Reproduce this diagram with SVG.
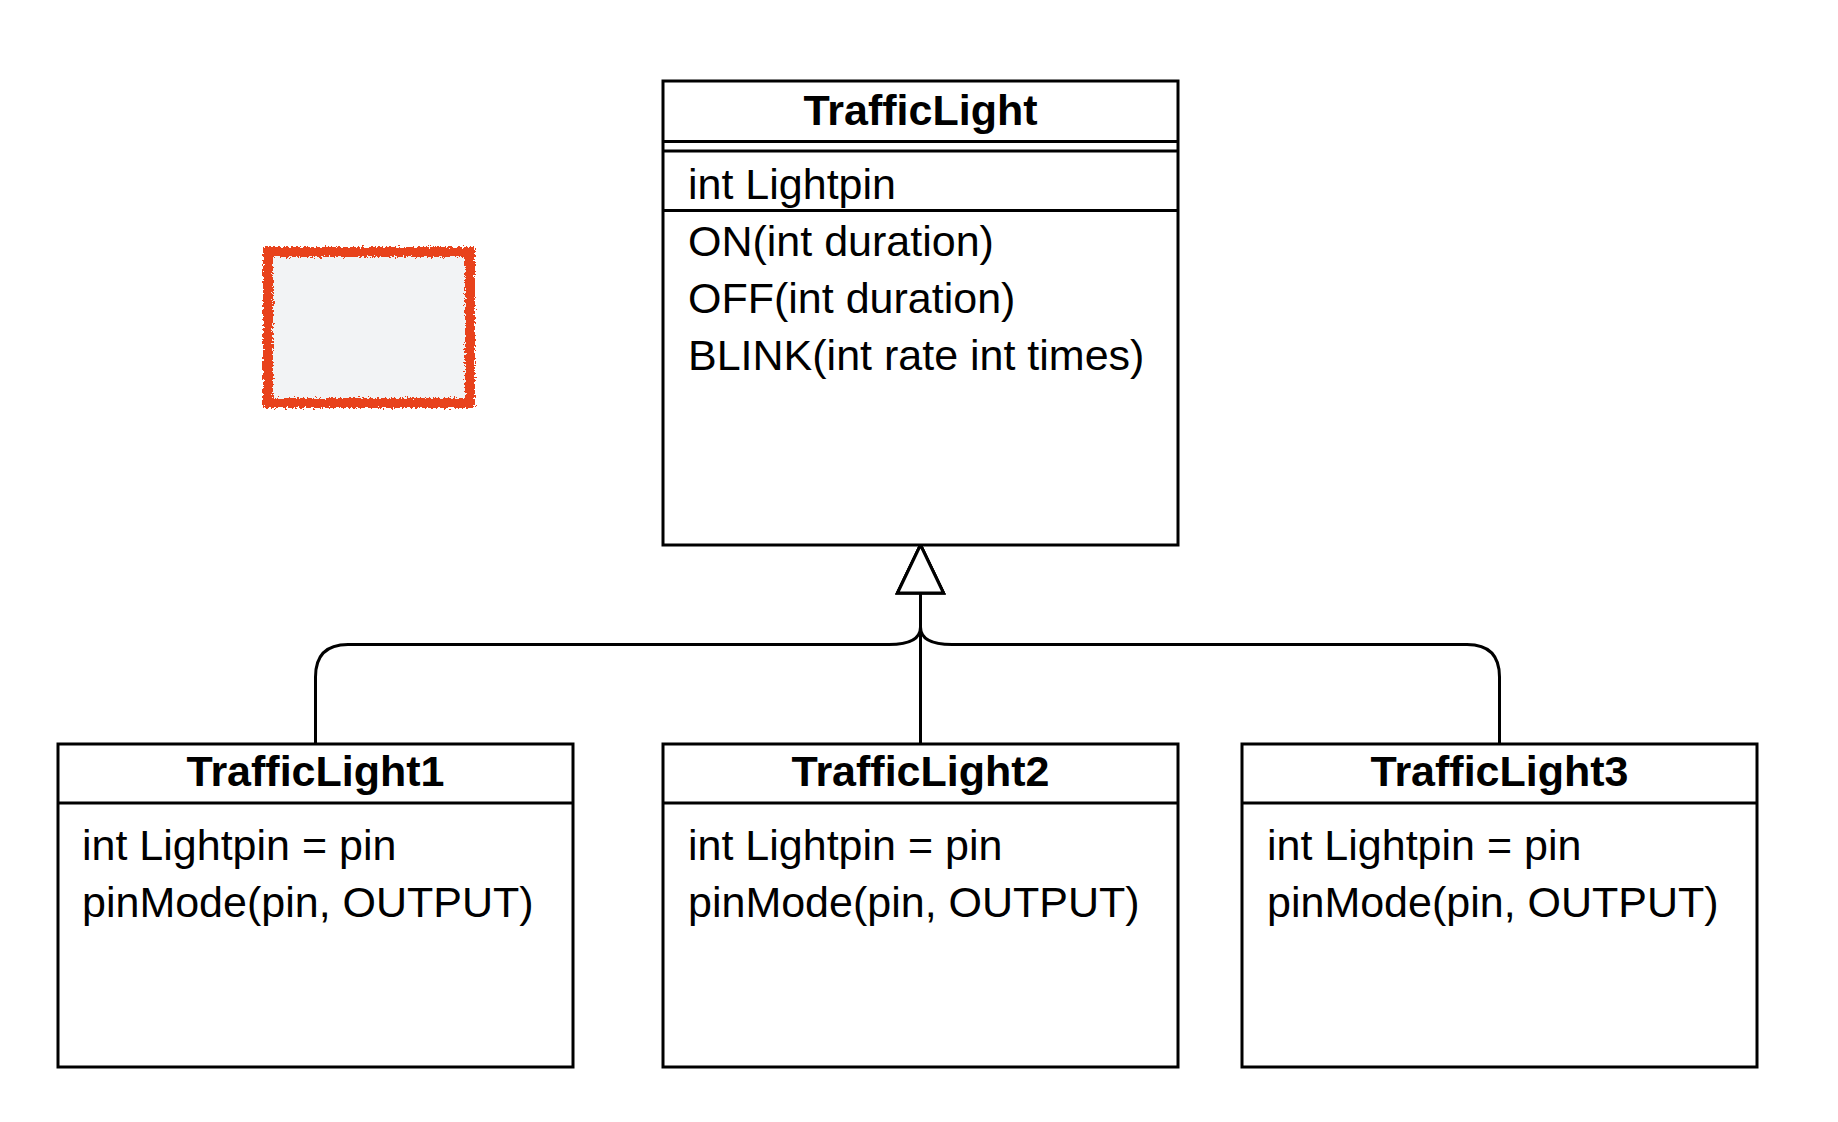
<svg xmlns="http://www.w3.org/2000/svg" width="1838" height="1122" viewBox="0 0 1838 1122">
  <defs>
    <style>
      .box { fill: #ffffff; stroke: #000000; stroke-width: 3; }
      .sep { stroke: #000000; stroke-width: 3; fill: none; }
      .title { font-family: "Liberation Sans", Arial, Helvetica, sans-serif; font-size: 43px; font-weight: bold; fill: #000000; text-anchor: middle; }
      .item { font-family: "Liberation Sans", Arial, Helvetica, sans-serif; font-size: 43px; fill: #000000; }
      .edge { fill: none; stroke: #000000; stroke-width: 3; }
      .sketch { fill: #f2f3f5; stroke: #e8421f; stroke-width: 10; }
    </style>
    <marker id="inherit" markerUnits="userSpaceOnUse" markerWidth="60" markerHeight="60" refX="0" refY="0" orient="auto" overflow="visible">
      <path d="M 0 -23 L 48 0 L 0 23 Z" fill="#ffffff" stroke="#000000" stroke-width="3" stroke-linejoin="miter"/>
    </marker>
    <filter id="rough" x="-10%" y="-10%" width="120%" height="120%">
      <feTurbulence type="fractalNoise" baseFrequency="0.45" numOctaves="2" seed="3" result="noise"/>
      <feDisplacementMap in="SourceGraphic" in2="noise" scale="7" xChannelSelector="R" yChannelSelector="G"/>
    </filter>
  </defs>
  <rect x="0" y="0" width="1838" height="1122" fill="#ffffff"/>

  <g id="sketch-box">
    <rect class="sketch" x="268" y="252" width="202" height="151" filter="url(#rough)"/>
  </g>

  <g id="connectors">
    <path class="edge" d="M 315.5 744 L 315.5 677 Q 315.5 644.5 348 644.5 L 889 644.5 Q 920.5 644.5 920.5 627 L 920.5 593" marker-end="url(#inherit)"/>
    <path class="edge" d="M 920.5 744 L 920.5 593" marker-end="url(#inherit)"/>
    <path class="edge" d="M 1499.5 744 L 1499.5 677 Q 1499.5 644.5 1467 644.5 L 952 644.5 Q 920.5 644.5 920.5 627 L 920.5 593" marker-end="url(#inherit)"/>
  </g>

  <g id="TrafficLight">
    <rect class="box" x="663" y="81" width="515" height="464"/>
    <line class="sep" x1="663" y1="141.5" x2="1178" y2="141.5"/>
    <line class="sep" x1="663" y1="151" x2="1178" y2="151"/>
    <line class="sep" x1="663" y1="210.5" x2="1178" y2="210.5"/>
    <text class="title" x="920.5" y="125">TrafficLight</text>
    <text class="item" x="688" y="199">int Lightpin</text>
    <text class="item" x="688" y="256">ON(int duration)</text>
    <text class="item" x="688" y="313">OFF(int duration)</text>
    <text class="item" x="688" y="370">BLINK(int rate int times)</text>
  </g>

  <g id="TrafficLight1">
    <rect class="box" x="58" y="744" width="515" height="323"/>
    <line class="sep" x1="58" y1="803" x2="573" y2="803"/>
    <text class="title" x="315.5" y="786">TrafficLight1</text>
    <text class="item" x="82" y="860">int Lightpin = pin</text>
    <text class="item" x="82" y="917">pinMode(pin, OUTPUT)</text>
  </g>

  <g id="TrafficLight2">
    <rect class="box" x="663" y="744" width="515" height="323"/>
    <line class="sep" x1="663" y1="803" x2="1178" y2="803"/>
    <text class="title" x="920.5" y="786">TrafficLight2</text>
    <text class="item" x="688" y="860">int Lightpin = pin</text>
    <text class="item" x="688" y="917">pinMode(pin, OUTPUT)</text>
  </g>

  <g id="TrafficLight3">
    <rect class="box" x="1242" y="744" width="515" height="323"/>
    <line class="sep" x1="1242" y1="803" x2="1757" y2="803"/>
    <text class="title" x="1499.5" y="786">TrafficLight3</text>
    <text class="item" x="1267" y="860">int Lightpin = pin</text>
    <text class="item" x="1267" y="917">pinMode(pin, OUTPUT)</text>
  </g>
</svg>
